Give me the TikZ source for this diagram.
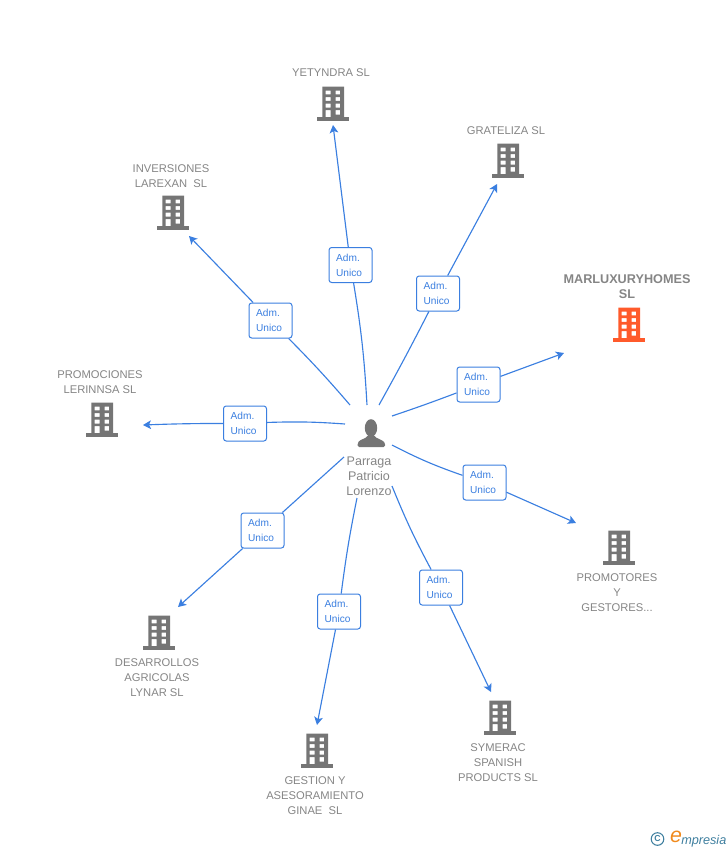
\documentclass[tikz,border=0pt]{standalone}
\usepackage{fontspec}
\setmainfont{Liberation Sans}
\usetikzlibrary{arrows.meta}
\definecolor{linkblue}{HTML}{3B7FE0}
\definecolor{labelgray}{HTML}{858585}
\definecolor{icongray}{HTML}{757575}
\definecolor{iconred}{HTML}{FF5A2B}
\definecolor{logoteal}{HTML}{3F7F9F}
\definecolor{logoorange}{HTML}{F08A1D}
\tikzset{
  building/.pic={
    \fill[pic actions,even odd rule]
      (-10.7,-17.3) rectangle (11,13.3)
      \foreach \wy in {-13.5,-7,-0.3}{
        (-7.3,\wy) rectangle (-2.5,\wy+3.9)
        (2.5,\wy) rectangle (7.2,\wy+3.9)}
      (-7.3,6) rectangle (-2.5,13.3)
      (2.5,6) rectangle (7.2,10.5);
    \fill[pic actions] (-16,13.3) rectangle (16,16.7);
  },
  company/.style={align=center,text=labelgray,inner sep=0pt,
    font=\fontsize{8.4}{11.25}\selectfont},
  mandate/.style={draw=linkblue,fill=white,rounded corners=2pt,line width=.75pt,
    minimum width=32.25pt,minimum height=26.25pt,inner sep=0pt,align=left,text width=21.5pt,
    text=linkblue,font=\fontsize{7.6}{11.25}\selectfont},
  link/.style={draw=linkblue,line width=.85pt},
}
\begin{document}
\begin{tikzpicture}[x=.75pt,y=-.75pt]
\useasboundingbox (0,0) rectangle (728,850);

\foreach \ix/\iy in {333/104,508/161,619/548,500/718,317/751,159/633,102/420,173/213}
  \pic[fill=icongray] at (\ix,\iy) {building};
\pic[fill=iconred] at (629,325) {building};

\fill[icongray] (371,428) ellipse (6.2 and 8.8);
\fill[icongray,rounded corners=1pt] (357.7,447) -- (357.7,443) .. controls (360,439.5) and (366,438.5) .. (368,435)
  -- (374,435) .. controls (376,438.5) and (382,439.5) .. (385,443) -- (385,447) -- cycle;

\node[company] (yetyndra) at (331,73) {YETYNDRA SL};
\node[company] (grateliza) at (506,131) {GRATELIZA SL};
\node[company] (inversiones) at (171,176.5) {INVERSIONES\\LAREXAN\ \ SL};
\node[company] (promociones) at (100,382.5) {PROMOCIONES\\LERINNSA SL};
\node[company,font=\fontsize{9.5}{11.25}\selectfont\bfseries] (marlux) at (627,287) {MARLUXURYHOMES\\SL};
\node[company] (promotores) at (617,593) {PROMOTORES\\Y\\GESTORES...};
\node[company] (symerac) at (498,763) {SYMERAC\\SPANISH\\PRODUCTS SL};
\node[company] (gestion) at (315,796) {GESTION Y\\ASESORAMIENTO\\GINAE\ \ SL};
\node[company] (desarrollos) at (157,678) {DESARROLLOS\\AGRICOLAS\\LYNAR SL};
\node[company,font=\fontsize{9.4}{11.25}\selectfont] (parraga) at (369,476) {Parraga\\Patricio\\Lorenzo};

\foreach \n/\bx/\by in {yetyndra/350.5/265,grateliza/438/293.5,marlux/478.5/384.5,promotores/484.5/482.5,
    symerac/441/587.5,gestion/339/611.5,desarrollos/262.5/530.5,promociones/245/423.5,inversiones/270.5/320.5}
  \node[mandate] (b\n) at (\bx,\by) {Adm.\\Unico};

\coordinate (syetyndra) at (367,405);
\coordinate (eyetyndra) at (333,125);
\coordinate (sgrateliza) at (379,405);
\coordinate (egrateliza) at (497,184);
\coordinate (smarlux) at (392,416);
\coordinate (emarlux) at (564,353);
\coordinate (spromotores) at (392,445);
\coordinate (epromotores) at (576,523);
\coordinate (ssymerac) at (392,486);
\coordinate (esymerac) at (491,692);
\coordinate (sgestion) at (357,498);
\coordinate (egestion) at (317,725);
\coordinate (sdesarrollos) at (344,457);
\coordinate (edesarrollos) at (178,607);
\coordinate (spromociones) at (345,424);
\coordinate (epromociones) at (143,425);
\coordinate (sinversiones) at (350,405);
\coordinate (einversiones) at (189,236);

\foreach \n/\bi/\bo in {yetyndra/3/0,grateliza/1/0,marlux/1/0,promotores/4/0,
    symerac/3/0,gestion/2/0,desarrollos/0/0,promociones/3/1,inversiones/2/0}{
  \draw[link] (s\n) to[bend right=\bi] (b\n);
  \draw[link,-{Stealth[length=6pt,width=6.5pt,inset=1.5pt]}] (b\n) to[bend right=\bo] (e\n);
}

\draw[logoteal,line width=.8pt] (657.5,839) circle (6.3);
\node[text=logoteal,inner sep=0pt,font=\bfseries\fontsize{6.5}{6.5}\selectfont] (copyr) at (657.5,839) {C};
\node[text=logoorange,inner sep=0pt,font=\itshape\fontsize{16}{16}\selectfont] (logoe) at (676,837) {e};
\node[text=logoteal,inner sep=0pt,anchor=west,font=\itshape\fontsize{9.5}{9.5}\selectfont] (logotext) at (681,841) {mpresia};
\end{tikzpicture}
\end{document}
